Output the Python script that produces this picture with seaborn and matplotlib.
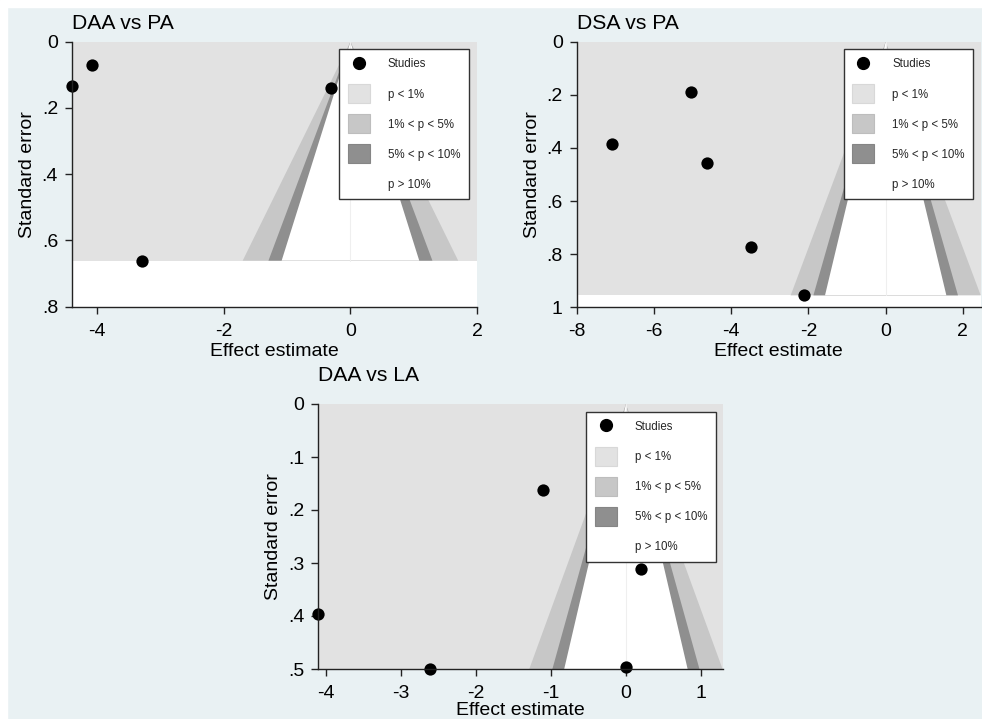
import numpy as np
import pandas as pd
import matplotlib
matplotlib.use("Agg")
import matplotlib.pyplot as plt
import seaborn as sns
from matplotlib.patches import Patch, Rectangle
from matplotlib.lines import Line2D
from matplotlib.legend_handler import HandlerPatch

sns.set_theme(style="white")
plt.rcParams["font.family"] = ["Liberation Sans", "DejaVu Sans"]

# ---- data ----
titles = ["DAA vs PA", "DSA vs PA", "DAA vs LA"]
p1_effect = [-4.40, -4.08, -3.30, -0.30]
p1_se = [0.135, 0.070, 0.661, 0.141]
p2_effect = [-7.09, -5.03, -4.62, -3.49, -2.11]
p2_se = [0.384, 0.190, 0.457, 0.774, 0.955]
p3_effect = [-4.10, -2.61, -1.10, 0.20, 0.00]
p3_se = [0.396, 0.500, 0.162, 0.312, 0.496]
p1_xticks = [-4, -2, 0, 2]
p2_xticks = [-8, -6, -4, -2, 0, 2]
p3_xticks = [-4, -3, -2, -1, 0, 1]
p1_yticks = [0, 0.2, 0.4, 0.6, 0.8]
p2_yticks = [0, 0.2, 0.4, 0.6, 0.8, 1.0]
p3_yticks = [0, 0.1, 0.2, 0.3, 0.4, 0.5]
legend_labels = ["Studies", "p < 1%", "1% < p < 5%", "5% < p < 10%", "p > 10%"]
z_levels = [2.576, 1.960, 1.645]

# ---- styling ----
BG = "#e9f1f3"
C_P1 = "#e2e2e2"
C_P5 = "#c7c7c7"
C_P10 = "#8f8f8f"
DARK = "#222222"

W, H = 982, 719
fig = plt.figure(figsize=(W / 100, H / 100), dpi=100)
fig.patch.set_facecolor(BG)
fig.add_artist(Rectangle((0, 1 - 7 / H), 1, 7 / H, transform=fig.transFigure,
                         color="white", zorder=-5))
fig.add_artist(Rectangle((0, 0), 7 / W, 1, transform=fig.transFigure,
                         color="white", zorder=-5))


def px_axes(left, right, top, bottom):
    return fig.add_axes([left / W, 1 - bottom / H, (right - left) / W, (bottom - top) / H])


panels = [
    dict(ax=px_axes(72, 477, 41.7, 306.7), eff=p1_effect, se=p1_se, xlim=(-4.40, 2.0),
         ymax=0.8, xt=p1_xticks, yt=p1_yticks, title=titles[0], tpad=9,
         leg=(0.980, 0.9725), xlpad=2.2),
    dict(ax=px_axes(576.7, 980.7, 41.7, 307.3), eff=p2_effect, se=p2_se, xlim=(-8.0, 2.46),
         ymax=1.0, xt=p2_xticks, yt=p2_yticks, title=titles[1], tpad=9,
         leg=(0.9817, 0.9725), xlpad=2.2),
    dict(ax=px_axes(318.3, 722.7, 404, 669), eff=p3_effect, se=p3_se, xlim=(-4.10, 1.29),
         ymax=0.5, xt=p3_xticks, yt=p3_yticks, title=titles[2], tpad=16.5,
         leg=(0.9827, 0.971), xlpad=0.0),
]


def stata_fmt(v):
    if abs(v) < 1e-9:
        return "0"
    if abs(v - round(v)) < 1e-9:
        return str(int(round(v)))
    s = f"{v:g}"
    return s.replace("0.", ".", 1) if s.startswith("0.") else s


def big_patch(legend, orig_handle, xdescent, ydescent, width, height, fontsize):
    h = 13.7  # points (~19 px)
    cy = -ydescent + height / 2
    return Rectangle((-xdescent, cy - h / 2), width, h)


for p in panels:
    ax = p["ax"]
    ax.set_facecolor("white")
    maxse = max(p["se"])
    x0, x1 = p["xlim"]
    # contour regions
    ax.fill([x0, x1, x1, x0], [0, 0, maxse, maxse], color=C_P1, lw=0, zorder=1)
    for z, c in zip(z_levels, [C_P5, C_P10, "white"]):
        ax.fill([0, -z * maxse, z * maxse], [0, maxse, maxse], color=c, lw=0, zorder=1)
    ax.plot([0, 0], [0, maxse], color="#efefef", lw=0.8, zorder=1.5)

    df = pd.DataFrame({"effect": p["eff"], "se": p["se"]})
    sns.scatterplot(data=df, x="effect", y="se", ax=ax, color="black", s=78,
                    edgecolor="black", linewidth=0, zorder=3, clip_on=False, legend=False)

    ax.set_xlim(x0, x1)
    ax.set_ylim(p["ymax"], 0)
    ax.set_xticks(p["xt"])
    ax.set_yticks(p["yt"])
    ax.set_xticklabels([stata_fmt(v) for v in p["xt"]])
    ax.set_yticklabels([stata_fmt(v) for v in p["yt"]])
    ax.tick_params(axis="both", which="major", length=5, width=1, color=DARK,
                   labelsize=14, labelcolor="black", direction="out",
                   bottom=True, left=True)
    ax.tick_params(axis="x", pad=6.5)
    ax.tick_params(axis="y", pad=5)
    for s in ["top", "right"]:
        ax.spines[s].set_visible(False)
    for s in ["left", "bottom"]:
        ax.spines[s].set_color(DARK)
        ax.spines[s].set_linewidth(1)
        ax.spines[s].set_zorder(4)
    ax.set_xlabel("Effect estimate", fontsize=14, labelpad=p["xlpad"], color="black")
    ax.set_ylabel("Standard error", fontsize=14, labelpad=4, color="black")
    ax.set_title(p["title"], loc="left", fontsize=15.2, pad=p["tpad"], color="black")

    handles = [
        Line2D([], [], marker="o", color="black", linestyle="none", markersize=8.5),
        Patch(facecolor=C_P1, edgecolor="#d8d8d8", linewidth=0.8),
        Patch(facecolor=C_P5, edgecolor="#bdbdbd", linewidth=0.8),
        Patch(facecolor=C_P10, edgecolor="#858585", linewidth=0.8),
        Patch(facecolor="white", edgecolor="white", linewidth=0),
    ]
    leg = ax.legend(handles, legend_labels, loc="upper right", bbox_to_anchor=p["leg"],
                    bbox_transform=ax.transAxes, frameon=True, fancybox=False,
                    framealpha=1, facecolor="white", edgecolor="#333333",
                    fontsize=8.3, handlelength=1.91, handleheight=1.2,
                    labelspacing=1.5, handletextpad=1.55, borderpad=0.75,
                    borderaxespad=0,
                    handler_map={Patch: HandlerPatch(patch_func=big_patch)})
    leg.get_frame().set_linewidth(1.0)
    leg.set_zorder(5)

fig.savefig("out.png", dpi=100, facecolor=fig.get_facecolor())
